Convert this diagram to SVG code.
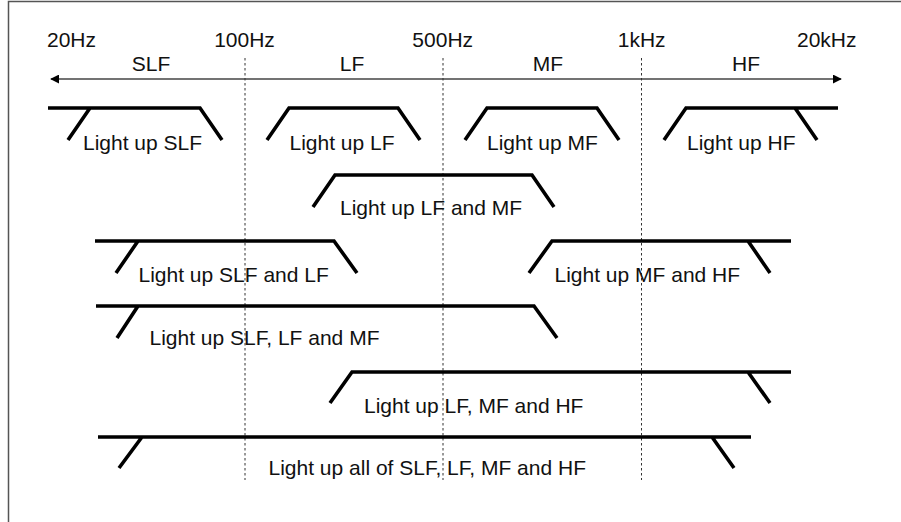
<svg xmlns="http://www.w3.org/2000/svg" width="901" height="522" viewBox="0 0 901 522">
<style>
text{font-family:"Liberation Sans",Arial,Helvetica,sans-serif;font-size:21px;fill:#111}
.c{text-anchor:middle}
.band{fill:none;stroke:#000;stroke-width:3.6;stroke-linejoin:miter;stroke-linecap:butt}
.grid{stroke:#333;stroke-width:1;stroke-dasharray:2.5 2.5}
.axis{stroke:#444;stroke-width:1.3}
</style>
<defs>
<marker id="ah" viewBox="0 0 10 10" refX="9" refY="5" markerWidth="9" markerHeight="9" markerUnits="userSpaceOnUse" orient="auto-start-reverse">
<path d="M0,0 L10,5 L0,10 z" fill="#000"/>
</marker>
</defs>
<rect x="8.5" y="1.5" width="1000" height="1000" fill="#fff" stroke="#555" stroke-width="1.5"/>
<g id="scale-labels">
<text x="47" y="47">20Hz</text>
<text class="c" x="244.5" y="47">100Hz</text>
<text class="c" x="442.7" y="47">500Hz</text>
<text class="c" x="641.7" y="47">1kHz</text>
<text x="797" y="47">20kHz</text>
<text class="c" x="151" y="71">SLF</text>
<text class="c" x="352" y="71">LF</text>
<text class="c" x="548" y="71">MF</text>
<text class="c" x="746" y="71">HF</text>
</g>
<g id="connectors">
<line class="axis" x1="51" y1="79" x2="841" y2="79" marker-start="url(#ah)" marker-end="url(#ah)"/>
<line class="grid" x1="245" y1="58" x2="245" y2="480"/>
<line class="grid" x1="443" y1="58" x2="443" y2="480"/>
<line class="grid" x1="641.5" y1="58" x2="641.5" y2="480"/>
</g>
<g id="slf">
<path class="band" d="M48,108 H200 L222,140 M90,108 L68,140"/>
<text x="83" y="150">Light up SLF</text>
</g>
<g id="lf">
<path class="band" d="M267,140 L289,108 H398 L420,140"/>
<text x="289.5" y="150">Light up LF</text>
</g>
<g id="mf">
<path class="band" d="M465,140 L487,108 H597 L619,140"/>
<text x="487" y="150">Light up MF</text>
</g>
<g id="hf">
<path class="band" d="M664,140 L686,108 H838 M795,108 L817,140"/>
<text x="687" y="150">Light up HF</text>
</g>
<g id="lf-mf">
<path class="band" d="M313,207 L335,175 H532 L554,207"/>
<text x="340" y="215">Light up LF and MF</text>
</g>
<g id="slf-lf">
<path class="band" d="M95,241 H334 L357,273 M138,241 L116,273"/>
<text x="138.5" y="282">Light up SLF and LF</text>
</g>
<g id="mf-hf">
<path class="band" d="M529,273 L552,241 H791 M748,241 L770,273"/>
<text x="554.5" y="282">Light up MF and HF</text>
</g>
<g id="slf-lf-mf">
<path class="band" d="M96,306 H534 L557,338 M138,306 L117,338"/>
<text x="149.5" y="345">Light up SLF, LF and MF</text>
</g>
<g id="lf-mf-hf">
<path class="band" d="M330,403 L352,372 H791 M748,372 L770,403"/>
<text x="364" y="413">Light up LF, MF and HF</text>
</g>
<g id="all">
<path class="band" d="M98,437 H751 M142,437 L119,468 M712,437 L734,468"/>
<text x="268.5" y="475">Light up all of SLF, LF, MF and HF</text>
</g>
</svg>
